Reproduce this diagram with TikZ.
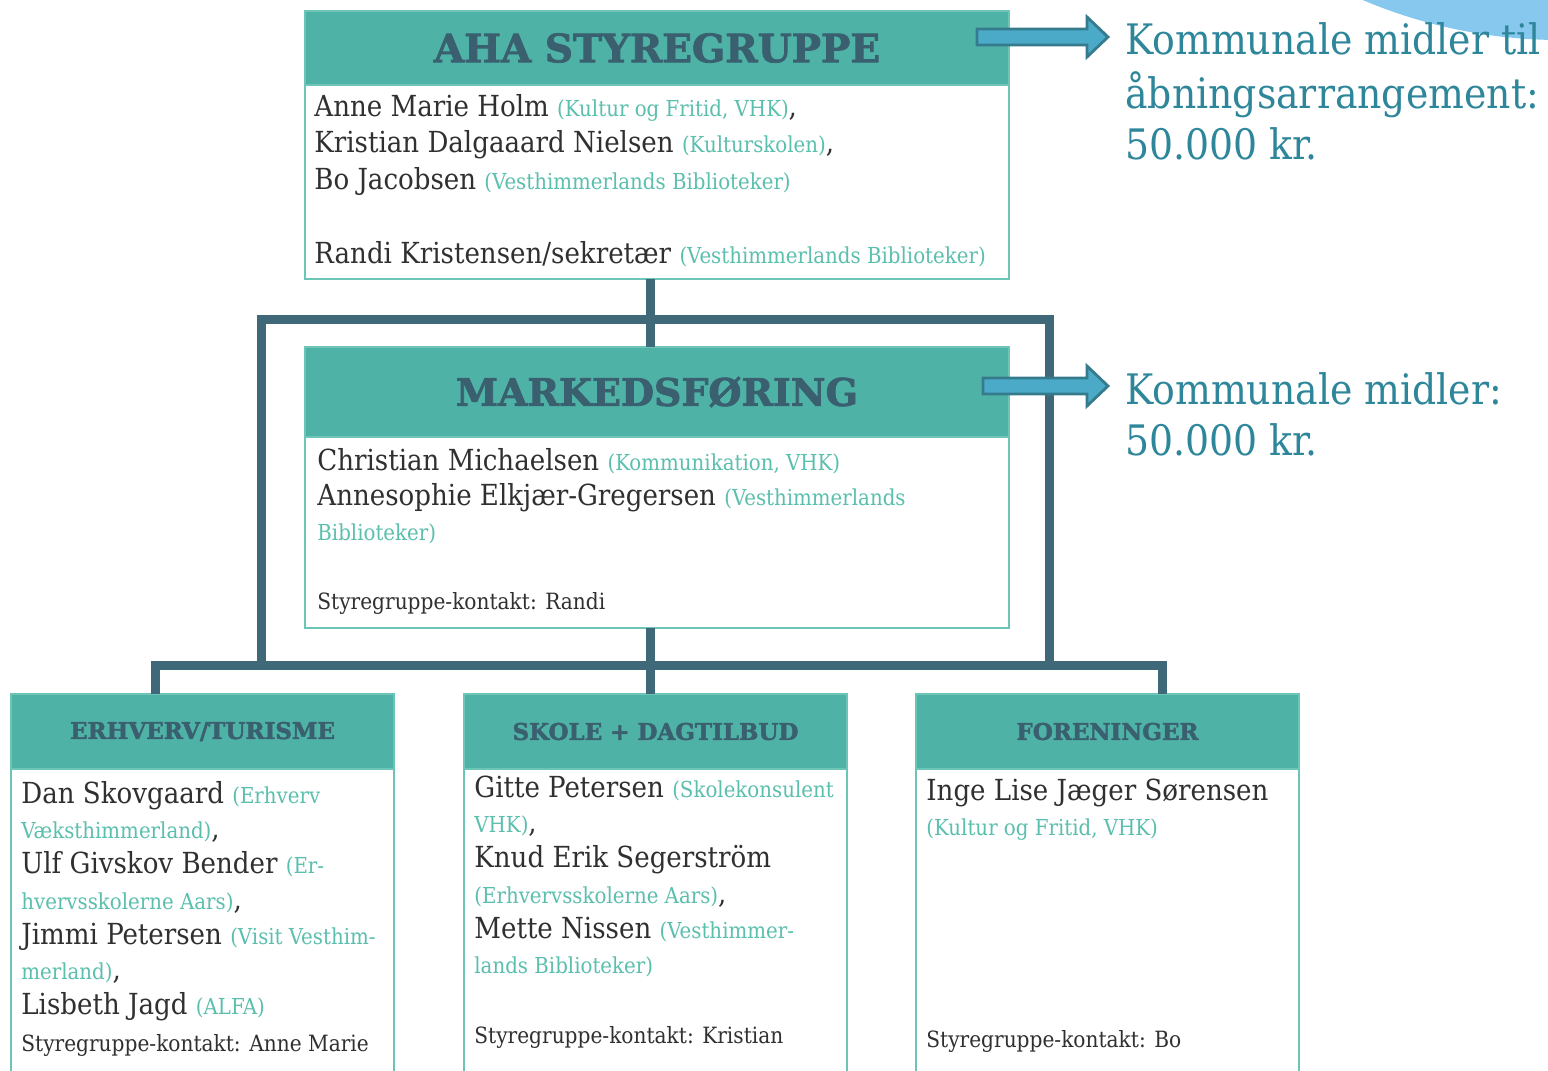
\documentclass[tikz,border=0pt]{standalone}
\usepackage{fontspec}
\setmainfont{DejaVu Serif Condensed}
\newfontfamily\headfont[BoldFeatures={FakeBold=2}]{DejaVu Serif}
\usetikzlibrary{positioning,calc}

\definecolor{headteal}{HTML}{4FB2A6}
\definecolor{titleslate}{HTML}{3A6070}
\definecolor{linkslate}{HTML}{3F6879}
\definecolor{frameteal}{HTML}{6DC5B8}
\definecolor{affteal}{HTML}{5BBFAE}
\definecolor{namegray}{HTML}{303030}
\definecolor{kommteal}{HTML}{2E869B}
\definecolor{arrowfill}{HTML}{4AAAC7}
\definecolor{arrowline}{HTML}{367A8E}
\definecolor{blobblue}{HTML}{86C8EE}

\newcommand{\aff}[1]{{\color{affteal}\fontsize{11}{11}\selectfont #1}}
\newcommand{\kontakt}[1]{{\fontsize{11.2}{11.2}\selectfont #1}}

\tikzset{
  headbar/.style={fill=headteal, draw=frameteal, line width=1pt, inner sep=0pt, outer sep=0pt, text=titleslate},
  bodybox/.style={fill=white, draw=frameteal, line width=1pt, inner sep=0pt, outer sep=0pt},
  names/.style={inner sep=0pt, align=left, text=namegray},
  link/.style={draw=linkslate, line width=4.5pt},
  blockarrow/.style={fill=arrowfill, draw=arrowline, line width=1.4pt, line join=miter},
  kommtext/.style={inner sep=0pt, align=left, anchor=north west, text=kommteal, font=\fontsize{21}{25.25}\selectfont}
}

\begin{document}
\begin{tikzpicture}[x=0.5pt,y=-0.5pt]
\useasboundingbox (0,0) rectangle (1548,1071);
\clip (0,0) rectangle (1548,1071);
\fill[blobblue] (1560,-465) circle (505);

% styregruppe
\node[headbar, minimum width=352pt, minimum height=37pt, anchor=north west, font=\headfont\bfseries\fontsize{19.5}{20}\selectfont] (ahahead) at (305,11) {AHA STYREGRUPPE};
\node[bodybox, minimum width=352pt, minimum height=97pt, below=0pt of ahahead] (ahabody) {};
\node[names, font=\fontsize{14.5}{18.25}\selectfont, below right=2.7pt and 4.5pt of ahabody.north west] (ahatext) {\strut Anne Marie Holm \aff{(Kultur og Fritid, VHK)},\\
Kristian Dalgaaard Nielsen \aff{(Kulturskolen)},\\
Bo Jacobsen \aff{(Vesthimmerlands Biblioteker)}\\[18.75pt]
Randi Kristensen/sekretær \aff{(Vesthimmerlands Biblioteker)}};

% markedsfoering
\node[headbar, minimum width=352pt, minimum height=45pt, below=34pt of ahabody, font=\headfont\bfseries\fontsize{19}{20}\selectfont] (markhead) {MARKEDSFØRING};
\node[bodybox, minimum width=352pt, minimum height=95.5pt, below=0pt of markhead] (markbody) {};
\node[names, font=\fontsize{14.5}{17.6}\selectfont, below right=4.2pt and 6pt of markbody.north west] (marktext) {\strut Christian Michaelsen \aff{(Kommunikation, VHK)}\\
Annesophie Elkjær-Gregersen \aff{(Vesthimmerlands}\\
\aff{Biblioteker)}\\[16.9pt]
\kontakt{Styregruppe-kontakt: Randi}};

% arbejdsgrupper
\node[headbar, minimum width=191.5pt, minimum height=37.5pt, anchor=north west, font=\headfont\bfseries\fontsize{11.5}{12}\selectfont] (erhvhead) at (11,694) {ERHVERV/TURISME};
\node[bodybox, minimum width=191.5pt, minimum height=160pt, below=0pt of erhvhead] (erhvbody) {};
\node[headbar, minimum width=191.5pt, minimum height=37.5pt, right=35pt of erhvhead, font=\headfont\bfseries\fontsize{11.5}{12}\selectfont] (skolehead) {SKOLE + DAGTILBUD};
\node[bodybox, minimum width=191.5pt, minimum height=160pt, below=0pt of skolehead] (skolebody) {};
\node[headbar, minimum width=191.5pt, minimum height=37.5pt, right=34.5pt of skolehead, font=\headfont\bfseries\fontsize{11.5}{12}\selectfont] (forhead) {FORENINGER};
\node[bodybox, minimum width=191.5pt, minimum height=160pt, below=0pt of forhead] (forbody) {};

\node[names, font=\fontsize{14.5}{17.6}\selectfont, below right=4.7pt and 5pt of erhvbody.north west] (erhvtext) {\strut Dan Skovgaard \aff{(Erhverv}\\
\aff{Væksthimmerland)},\\
Ulf Givskov Bender \aff{(Er-}\\
\aff{hvervsskolerne Aars)},\\
Jimmi Petersen \aff{(Visit Vesthim-}\\
\aff{merland)},\\
Lisbeth Jagd \aff{(ALFA)}\\[0.9pt]
\kontakt{Styregruppe-kontakt: Anne Marie}};
\node[names, font=\fontsize{14.5}{17.6}\selectfont, below right=1.7pt and 5pt of skolebody.north west] (skoletext) {\strut Gitte Petersen \aff{(Skolekonsulent}\\
\aff{VHK)},\\
Knud Erik Segerström\\
\aff{(Erhvervsskolerne Aars)},\\
Mette Nissen \aff{(Vesthimmer-}\\
\aff{lands Biblioteker)}\\[17.4pt]
\kontakt{Styregruppe-kontakt: Kristian}};
\node[names, font=\fontsize{14.5}{17.6}\selectfont, below right=3.2pt and 5pt of forbody.north west] (fortext) {\strut Inge Lise Jæger Sørensen\\
\aff{(Kultur og Fritid, VHK)}\\[88.4pt]
\kontakt{Styregruppe-kontakt: Bo}};

% forbindelser
\coordinate (spine) at (650,0);
\coordinate (frameL) at (261,665);
\coordinate (frameR) at (1049,665);
\coordinate (frameT) at (650,319);
\coordinate (railmid) at (650,665);
\coordinate (legL) at (155,0);
\coordinate (legR) at (1162,0);
\draw[link] (ahabody.south -| spine) -- (markhead.north -| spine);
\draw[link] (frameL) |- (frameT) -| (frameR);
\draw[link] (markbody.south -| spine) -- (skolehead.north -| spine);
\draw[link] (erhvhead.north -| legL) |- (railmid) -| (forhead.north -| legR);

% midler
\node[kommtext] (kommA) at (1125,19) {\strut Kommunale midler til\\åbningsarrangement:\\50.000 kr.};
\node[kommtext] (kommB) at (1125,369) {\strut Kommunale midler:\\50.000 kr.};
\coordinate (arrAtail) at (977,37);
\coordinate (arrAtip) at ([xshift=-8.5pt]kommA.west |- arrAtail);
\filldraw[blockarrow] ($(arrAtail)+(0,-8)$) -- ($(arrAtip)+(-21,-8)$) -- ++(0,-12) -- (arrAtip) -- ($(arrAtip)+(-21,20)$) -- ++(0,-12) -- ($(arrAtail)+(0,8)$) -- cycle;
\coordinate (arrBtail) at (983,386);
\coordinate (arrBtip) at ([xshift=-8.5pt]kommB.west |- arrBtail);
\filldraw[blockarrow] ($(arrBtail)+(0,-8)$) -- ($(arrBtip)+(-21,-8)$) -- ++(0,-12) -- (arrBtip) -- ($(arrBtip)+(-21,20)$) -- ++(0,-12) -- ($(arrBtail)+(0,8)$) -- cycle;
\end{tikzpicture}
\end{document}
